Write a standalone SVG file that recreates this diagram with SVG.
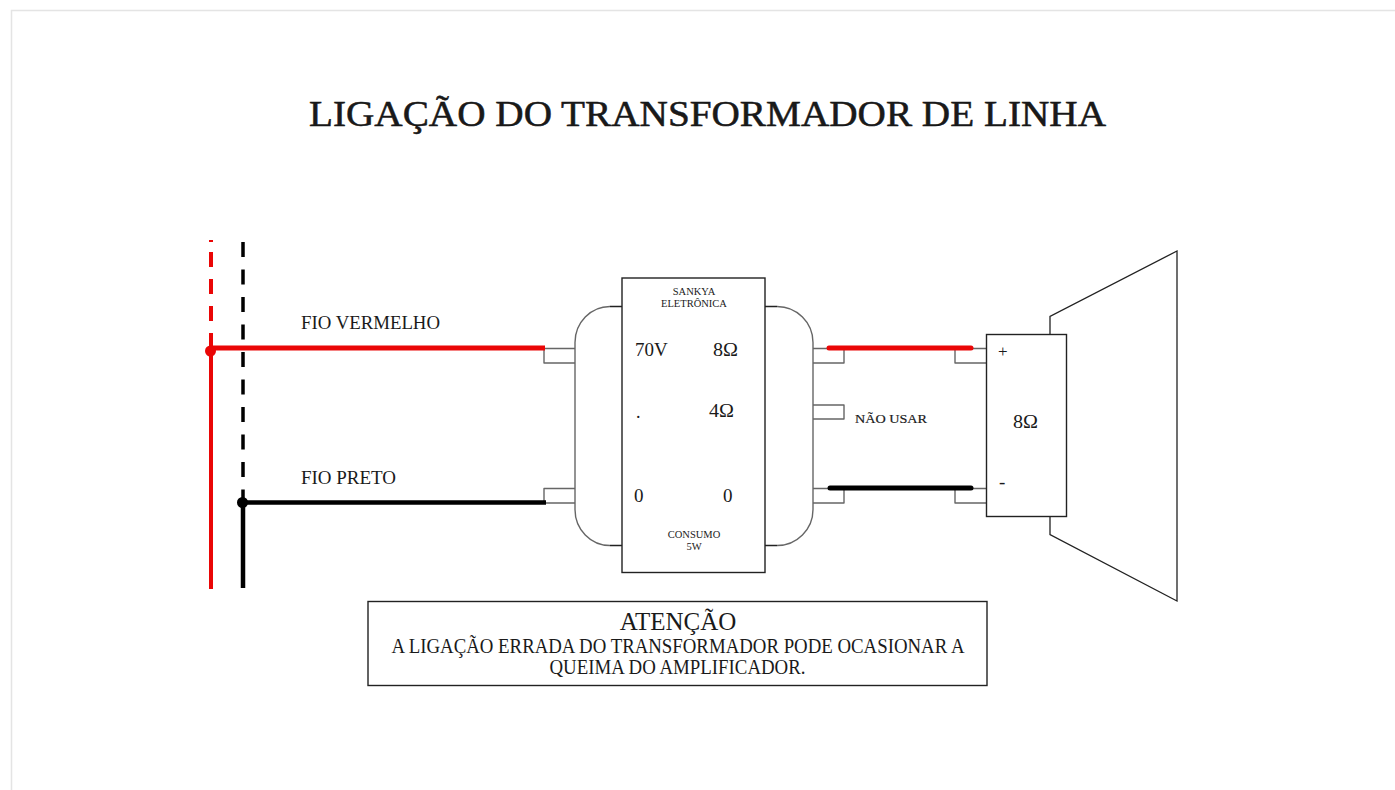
<svg xmlns="http://www.w3.org/2000/svg" width="1395" height="790" viewBox="0 0 1395 790">
<style>
text{font-family:"Liberation Serif","Times New Roman",serif;fill:#1a1a1a}
.o{fill:none;stroke:#222;stroke-width:1.3}
.g{fill:none;stroke:#666;stroke-width:1.4;stroke-linejoin:round}
.box{fill:#fff;stroke:#222;stroke-width:1.4}
.r{stroke:#ea0606;fill:none}
.k{stroke:#000;fill:none}
.m{text-anchor:middle}
</style>
<rect width="1395" height="790" fill="#fff"/>
<path d="M11.5 790V10.5H1395" fill="none" stroke="#e4e4e4" stroke-width="1.5"/>
<g id="title"><text x="309" y="126" font-size="36" textLength="797" lengthAdjust="spacingAndGlyphs" stroke="#111" stroke-width="0.5">LIGAÇÃO DO TRANSFORMADOR DE LINHA</text></g>
<g id="transformer">
<path class="g" d="M610 306.500A35 36 0 0 0 575 342.500V509.500A35 36 0 0 0 610 545.500M777 306.500A36 36 0 0 1 813 342.500V509.500A36 36 0 0 1 777 545.500"/>
<path class="o" d="M622 306.500H610M622 545.500H610M765 306.500H777M765 545.500H777"/>
<path class="g" d="M575 348.500H544V363H575M575 488.500H544V503H575M813 348.500H844V363H813M813 405H844V419H813M813 488.500H844V503H813"/>
<rect class="box" x="622" y="278" width="143" height="294.500"/>
<text class="m" x="694" y="295" font-size="10.500">SANKYA</text>
<text class="m" x="694" y="307" font-size="10.500">ELETRÔNICA</text>
<text x="635" y="356" font-size="19">70V</text>
<text x="713" y="356" font-size="19" textLength="25" lengthAdjust="spacingAndGlyphs">8Ω</text>
<text x="636" y="418" font-size="18">.</text>
<text x="709" y="417" font-size="19" textLength="25" lengthAdjust="spacingAndGlyphs">4Ω</text>
<text x="634" y="502" font-size="19">0</text>
<text x="723" y="502" font-size="19">0</text>
<text class="m" x="694" y="538" font-size="10.500">CONSUMO</text>
<text class="m" x="694" y="550" font-size="10.500">5W</text>
</g>
<g id="speaker">
<path class="o" d="M1050 334V316.500L1177 251V601L1050 534.500V516"/>
<path class="g" d="M986 348.500H955V363H986M986 488.500H955V503H986"/>
<rect class="box" x="986.500" y="334.500" width="80" height="182"/>
<text x="998" y="357" font-size="17">+</text>
<text x="999" y="488" font-size="19">-</text>
<text x="1013" y="428" font-size="19" textLength="25" lengthAdjust="spacingAndGlyphs">8Ω</text>
</g>
<g id="labels">
<text x="301" y="329" font-size="18" textLength="139" lengthAdjust="spacingAndGlyphs">FIO VERMELHO</text>
<text x="301" y="484" font-size="18" textLength="95" lengthAdjust="spacingAndGlyphs">FIO PRETO</text>
<text x="855" y="423" font-size="13" textLength="72" lengthAdjust="spacingAndGlyphs" stroke="#1a1a1a" stroke-width="0.2">NÃO USAR</text>
</g>
<g id="connectors">
<path class="k" d="M243 242V502" stroke-width="3.500" stroke-dasharray="15 12.500"/>
<path class="k" d="M243 502V588M243 502.500H546" stroke-width="4.500"/>
<circle cx="242.500" cy="502.500" r="5.500" fill="#000"/>
<path class="r" d="M211 240V351" stroke-width="4" stroke-dasharray="2 10 15 12 15 12 15 12 15 12 15"/>
<path class="r" d="M211 351V589" stroke-width="4"/>
<path class="r" d="M211 348H545" stroke-width="5"/>
<circle cx="210.500" cy="351" r="5.500" fill="#ea0606"/>
<path class="r" d="M829 348H971" stroke-width="5" stroke-linecap="round"/>
<path class="k" d="M830 488H971" stroke-width="5" stroke-linecap="round"/>
</g>
<g id="notice">
<rect class="box" x="368" y="601.500" width="619" height="84"/>
<text class="m" x="678" y="630" font-size="25">ATENÇÃO</text>
<text class="m" x="678" y="653" font-size="20" textLength="573" lengthAdjust="spacingAndGlyphs">A LIGAÇÃO ERRADA DO TRANSFORMADOR PODE OCASIONAR A</text>
<text class="m" x="677.500" y="674" font-size="20" textLength="256" lengthAdjust="spacingAndGlyphs">QUEIMA DO AMPLIFICADOR.</text>
</g>
</svg>
